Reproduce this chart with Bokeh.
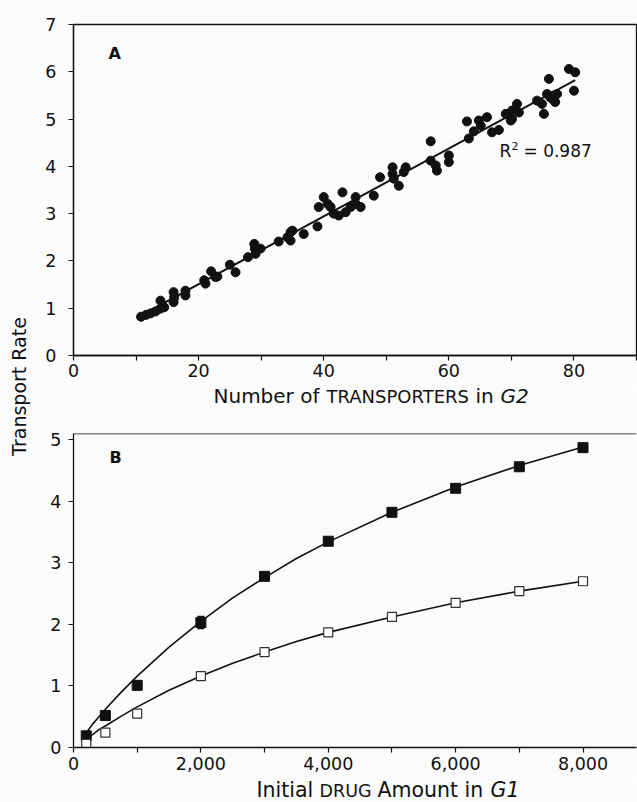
import numpy as np
from bokeh.plotting import figure
from bokeh.layouts import row, column
from bokeh.models import (Range1d, FixedTicker, NumeralTickFormatter, Label,
                          Whisker, ColumnDataSource, Span, TeeHead)
from bokeh.embed import file_html
from bokeh.resources import INLINE

BG = "#fbfbfb"
INK = "#111111"
FONT = "DejaVu Sans"

# ---------------- Panel A data ----------------
transporters = [10.8, 11.6, 12.3, 13.1, 13.9, 13.9, 14.5, 16.0, 16.0, 16.1, 17.9, 17.9,
                20.9, 21.1, 22.0, 22.7, 23.0, 25.0, 25.9, 27.9, 28.9, 29.0, 29.1, 29.9,
                32.8, 34.2, 34.7, 34.7, 35.0, 36.8, 39.0, 39.2, 40.0, 40.6, 41.1, 41.6,
                42.4, 43.0, 43.5, 44.3, 45.1, 45.1, 45.9, 48.0, 49.0, 51.0, 51.0, 51.2,
                52.0, 52.8, 53.1, 57.1, 57.1, 57.9, 58.1, 60.0, 60.0, 62.9, 63.2, 64.0,
                64.8, 65.1, 66.1, 66.9, 68.0, 69.1, 69.9, 70.1, 70.1, 70.9, 71.2, 74.1,
                74.9, 75.2, 75.7, 76.0, 76.2, 76.5, 76.8, 77.0, 77.3, 79.2, 80.0, 80.2]
rate = [0.82, 0.86, 0.89, 0.93, 0.99, 1.16, 1.02, 1.34, 1.13, 1.23, 1.37, 1.27,
        1.59, 1.52, 1.78, 1.66, 1.67, 1.92, 1.76, 2.08, 2.36, 2.26, 2.15, 2.26,
        2.41, 2.50, 2.61, 2.43, 2.64, 2.57, 2.73, 3.14, 3.35, 3.21, 3.14, 3.00,
        2.96, 3.45, 3.03, 3.14, 3.35, 3.21, 3.14, 3.38, 3.77, 3.98, 3.84, 3.74,
        3.59, 3.88, 3.98, 4.53, 4.12, 4.02, 3.91, 4.23, 4.09, 4.95, 4.59, 4.74,
        4.97, 4.86, 5.04, 4.72, 4.77, 5.11, 4.97, 5.18, 5.00, 5.32, 5.14, 5.39,
        5.32, 5.11, 5.53, 5.85, 5.46, 5.43, 5.50, 5.36, 5.53, 6.06, 5.60, 5.99]
r_squared_text = "= 0.987"

a_x_major = [0, 20, 40, 60, 80]
a_x_minor = [10, 30, 50, 70, 90]
a_y_major = [0, 1, 2, 3, 4, 5, 6, 7]

# ---------------- Panel B data ----------------
drug_amount = [200, 500, 1000, 2000, 3000, 4000, 5000, 6000, 7000, 8000]
rate_filled = [0.19, 0.52, 1.01, 2.03, 2.78, 3.35, 3.82, 4.21, 4.56, 4.87]
err_filled = [0.02, 0.06, 0.07, 0.10, 0.06, 0.06, 0.05, 0.03, 0.03, 0.03]
rate_open = [0.06, 0.24, 0.55, 1.16, 1.55, 1.87, 2.12, 2.35, 2.54, 2.70]
err_open = [0.02, 0.02, 0.03, 0.03, 0.02, 0.03, 0.02, 0.02, 0.02, 0.02]

curve_x = [200, 300, 400, 500, 750, 1000, 1500, 2000, 2500, 3000, 3500, 4000,
           5000, 6000, 7000, 8000]
curve_filled = [0.24, 0.38, 0.50, 0.62, 0.90, 1.16, 1.63, 2.05, 2.43, 2.76, 3.07,
                3.34, 3.82, 4.23, 4.58, 4.88]
curve_open = [0.14, 0.21, 0.29, 0.35, 0.51, 0.66, 0.93, 1.16, 1.37, 1.55, 1.72,
              1.87, 2.12, 2.35, 2.54, 2.70]

b_x_major = [0, 2000, 4000, 6000, 8000]
b_x_minor = [1000, 3000, 5000, 7000]
b_y_major = [0, 1, 2, 3, 4, 5]

MID = 0.346   # DejaVu: baseline minus this * size = vertical centre of text box


def style_axis(ax, standoff):
    ax.axis_line_color = INK
    ax.axis_line_width = 1.3
    ax.major_tick_line_color = INK
    ax.minor_tick_line_color = INK
    ax.major_tick_line_width = 1.2
    ax.minor_tick_line_width = 1.2
    ax.major_tick_in = 0
    ax.major_tick_out = 5
    ax.minor_tick_in = 0
    ax.minor_tick_out = 5
    ax.major_label_text_font = FONT
    ax.major_label_text_font_size = "17.5px"
    ax.major_label_text_color = INK
    ax.major_label_standoff = standoff


def base_fig(w, h, xr, yr, **kw):
    p = figure(width=w, height=h, x_range=xr, y_range=yr, output_backend="svg",
               toolbar_location=None, title=None, background_fill_color=BG,
               border_fill_color=BG, **kw)
    if p.xgrid:
        p.xgrid.visible = False
    if p.ygrid:
        p.ygrid.visible = False
    return p


# picture layout
LEFT = 38                 # left edge of the panel column
COL_W = 637 - LEFT
BL, BR = 35, 1            # left / right borders of every plot in the column
FR_L, FR_R = LEFT + BL, 637 - BR   # frame edges in picture pixels (73..636)
A_TOP, A_BOT = 0, 384
SA_TOP, SA_BOT = 384, 410
B_TOP, B_BOT = 410, 777
SB_TOP, SB_BOT = 777, 802


def strip_fig(h, top):
    # axis-less strip in the column; its frame (aligned with the panels)
    # spans picture x FR_L..FR_R, and its data coordinates equal picture pixels
    return base_fig(COL_W, h, Range1d(FR_L, FR_R), Range1d(top + h, top),
                    x_axis_type=None, y_axis_type=None,
                    min_border_left=BL, min_border_right=BR,
                    min_border_top=0, min_border_bottom=0,
                    outline_line_color=None)


def add_text(p, x, y_base, text, size, style="normal", to_y=None, **kw):
    # y_base: where the baseline should sit (picture pixels); label is centred
    yc = y_base - MID * size
    if to_y is not None:
        yc = to_y(yc)
    p.add_layout(Label(x=x, y=yc, text=text, text_font=FONT,
                       text_font_size=f"{size}px", text_font_style=style,
                       text_color=INK, text_baseline="middle", text_align="left",
                       **kw))


# ---------------- Panel A ----------------
pA = base_fig(COL_W, A_BOT - A_TOP, Range1d(0, 90), Range1d(0, 7),
              min_border_left=BL, min_border_right=BR,
              min_border_top=24, min_border_bottom=29,
              outline_line_color=INK, outline_line_width=1.3)
pA.xaxis.ticker = FixedTicker(ticks=a_x_major, minor_ticks=a_x_minor)
pA.yaxis.ticker = FixedTicker(ticks=a_y_major)
style_axis(pA.xaxis[0], 3)
style_axis(pA.yaxis[0], 12)

slope, intercept = np.polyfit(transporters, rate, 1)
fit_x = [min(transporters), max(transporters)]
fit_y = [intercept + slope * v for v in fit_x]
pA.line(fit_x, fit_y, line_color=INK, line_width=2)
pA.scatter(transporters, rate, marker="circle", size=9, fill_color=INK,
           line_color=INK)


def ax_(px):   # frame x 73..636 -> 0..90
    return (px - FR_L) / (FR_R - FR_L) * 90


def ay_(py):   # frame y 24..355 -> 7..0
    return (355 - py) / 331 * 7


add_text(pA, ax_(108), 59, "A", 16, "bold", to_y=ay_)
add_text(pA, ax_(499), 156, "R", 17, to_y=ay_)
add_text(pA, ax_(511), 149, "2", 11, to_y=ay_)
add_text(pA, ax_(523), 156, r_squared_text, 17, to_y=ay_)

sA = strip_fig(SA_BOT - SA_TOP, SA_TOP)
add_text(sA, 213, 402.5, "Number of", 20)
add_text(sA, 326, 402.5, "TRANSPORTERS", 18)
add_text(sA, 475, 402.5, "in", 20)
add_text(sA, 500, 402.5, "G2", 20, "italic")

# ---------------- Panel B ----------------
B_XEND = 8840
pB = base_fig(COL_W, B_BOT - B_TOP, Range1d(0, B_XEND), Range1d(0, 5.1),
              min_border_left=BL, min_border_right=BR,
              min_border_top=23, min_border_bottom=30,
              outline_line_color=None)
pB.xaxis.ticker = FixedTicker(ticks=b_x_major, minor_ticks=b_x_minor)
pB.xaxis.formatter = NumeralTickFormatter(format="0,0")
pB.yaxis.ticker = FixedTicker(ticks=b_y_major)
style_axis(pB.xaxis[0], 4)
style_axis(pB.yaxis[0], 7)
pB.add_layout(Span(location=5.1, dimension="width", line_color=INK,
                   line_width=1.3))

pB.line(curve_x, curve_filled, line_color=INK, line_width=1.6)
pB.line(curve_x, curve_open, line_color=INK, line_width=1.6)

src_f = ColumnDataSource(dict(x=drug_amount, y=rate_filled,
                              lo=[v - e for v, e in zip(rate_filled, err_filled)],
                              hi=[v + e for v, e in zip(rate_filled, err_filled)]))
src_o = ColumnDataSource(dict(x=drug_amount, y=rate_open,
                              lo=[v - e for v, e in zip(rate_open, err_open)],
                              hi=[v + e for v, e in zip(rate_open, err_open)]))
for src in (src_f, src_o):
    pB.add_layout(Whisker(source=src, base="x", lower="lo", upper="hi",
                          line_color=INK, line_width=1.2,
                          upper_head=TeeHead(size=7, line_color=INK, line_width=1.2),
                          lower_head=TeeHead(size=7, line_color=INK, line_width=1.2)))
pB.scatter("x", "y", source=src_f, marker="square", size=10, fill_color=INK,
           line_color=INK)
pB.scatter("x", "y", source=src_o, marker="square", size=9, fill_color="white",
           line_color="#333333", line_width=1.2)


def bx_(px):   # frame x 73..636 -> 0..B_XEND
    return (px - FR_L) / (FR_R - FR_L) * B_XEND


def by_(py):   # frame y 433..747 -> 5.1..0
    return (747 - py) / 314 * 5.1


add_text(pB, bx_(109), 463, "B", 16, "bold", to_y=by_)

sB = strip_fig(SB_BOT - SB_TOP, SB_TOP)
add_text(sB, 256, 797, "Initial", 20.5)
add_text(sB, 319, 797, "DRUG", 17.5)
add_text(sB, 377, 797, "Amount", 20.5)
add_text(sB, 464, 797, "in", 20.5)
add_text(sB, 490, 797, "G1", 20.5, "italic")

# ---------------- shared y label strip ----------------
pL = base_fig(LEFT, SB_BOT - A_TOP, Range1d(0, LEFT), Range1d(SB_BOT, A_TOP),
              x_axis_type=None, y_axis_type=None, min_border=0,
              min_border_left=0, min_border_right=0, min_border_top=0,
              min_border_bottom=0, outline_line_color=None)
pL.add_layout(Label(x=25 - MID * 19, y=386, text="Transport Rate", angle=np.pi / 2,
                    text_font=FONT, text_font_size="19px", text_color=INK,
                    text_align="center", text_baseline="middle"))

layout = row(pL, column(pA, sA, pB, sB))
open("out.html", "w").write(file_html(layout, INLINE))
